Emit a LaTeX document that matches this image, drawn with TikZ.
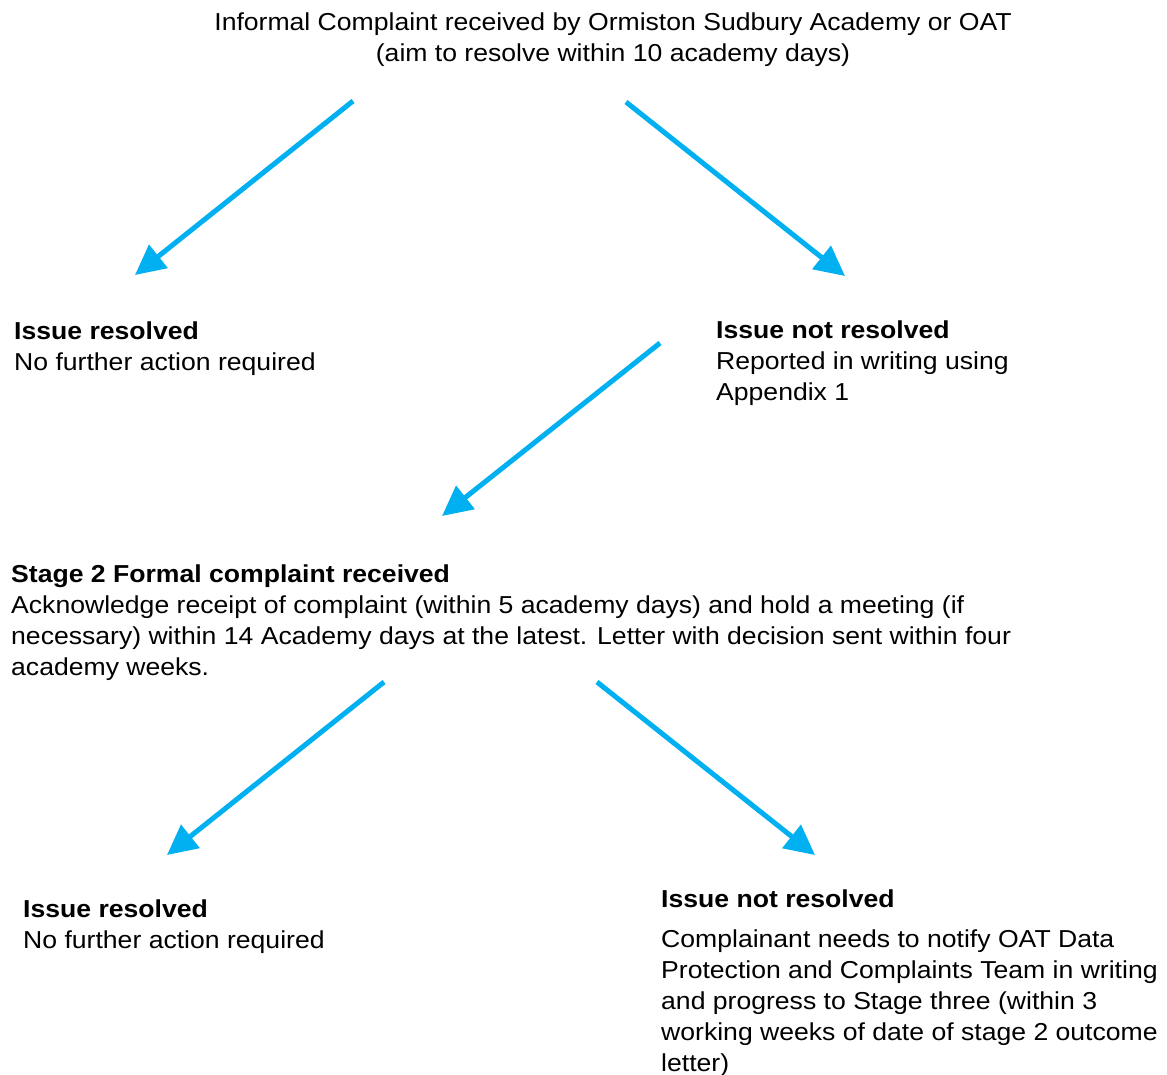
\documentclass[tikz,border=0pt]{standalone}
\usepackage{fontspec}
\setmainfont{Liberation Sans}[FakeStretch=1.085]
\usetikzlibrary{arrows.meta}
\definecolor{flowblue}{HTML}{00B0F0}
\tikzset{
  txt/.style={anchor=base west, inner sep=0pt, align=left,
    font=\fontsize{24.5pt}{31pt}\selectfont},
  flowarrow/.style={draw=flowblue, line width=5pt,
    -{Triangle[length=30pt,width=29pt,fill=flowblue]}}
}
\begin{document}
\begin{tikzpicture}[x=1pt,y=-1pt]
\useasboundingbox (0,0) rectangle (1167,1075);
% base anchor of a multi-line node = baseline of its last line
\node[txt, anchor=base, align=center] (top) at (613,62)
  {Informal Complaint received by Ormiston Sudbury Academy or OAT\\(aim to resolve within 10 academy days)};
\node[txt] (res1) at (14,370) {\textbf{Issue resolved}\\No further action required};
\node[txt] (nres1) at (716,400) {\textbf{Issue not resolved}\\Reported in writing using\\Appendix 1};
\node[txt] (stage2) at (11,675) {\textbf{Stage 2 Formal complaint received}\\
Acknowledge receipt of complaint (within 5 academy days) and hold a meeting (if\\
necessary) within 14 Academy days at the latest. Letter with decision sent within four\\
academy weeks.};
\node[txt] (res2) at (23,948) {\textbf{Issue resolved}\\No further action required};
\node[txt] (nres2h) at (661,907) {\textbf{Issue not resolved}};
\node[txt] (nres2) at (661,1071) {Complainant needs to notify OAT Data\\
Protection and Complaints Team in writing\\
and progress to Stage three (within 3\\
working weeks of date of stage 2 outcome\\
letter)};
\coordinate (a1s) at (353,101); \coordinate (a1e) at (135,275);
\coordinate (a2s) at (626,102); \coordinate (a2e) at (845,276);
\coordinate (a3s) at (660,343); \coordinate (a3e) at (442,516);
\coordinate (a4s) at (384,682); \coordinate (a4e) at (167,855);
\coordinate (a5s) at (597,682); \coordinate (a5e) at (815,855);
\draw[flowarrow] (a1s) -- (a1e);
\draw[flowarrow] (a2s) -- (a2e);
\draw[flowarrow] (a3s) -- (a3e);
\draw[flowarrow] (a4s) -- (a4e);
\draw[flowarrow] (a5s) -- (a5e);
\end{tikzpicture}
\end{document}
